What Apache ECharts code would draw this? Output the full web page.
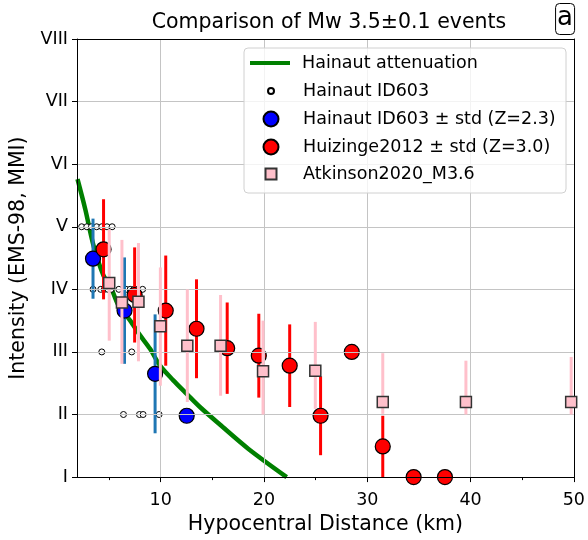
<!DOCTYPE html>
<html>
<head>
<meta charset="utf-8">
<script src="https://cdn.jsdelivr.net/npm/echarts@6/dist/echarts.min.js"></script>
<style>html,body{margin:0;padding:0;background:#fff}#chart{width:588px;height:540px}</style>
</head>
<body>
<div id="chart"></div>
<script>
var romanLabels = ['I', 'II', 'III', 'IV', 'V', 'VI', 'VII', 'VIII'];
var xTicks = [10, 20, 30, 40, 50];
var xMinorTicks = [5, 15, 25, 35, 45];

// Hainaut attenuation curve
var curveX = [1.95, 2.7, 3.5, 4.47, 5.11, 5.92, 7.05, 7.94, 8.97, 9.94, 11.2, 12.52, 13.8, 15.73, 18.5, 22.2];
var curveY = [5.76, 5.28, 4.70, 4.22, 4.06, 3.74, 3.50, 3.28, 3.05, 2.78, 2.55, 2.33, 2.12, 1.84, 1.45, 1.0];

// Hainaut ID603 single observations
var id603X = [2.35, 2.85, 3.3, 3.8, 4.3, 4.8, 5.3,
  3.45, 4.2, 4.55, 4.9, 5.2, 5.95, 6.65, 7.05, 7.4, 7.75, 8.25,
  4.3, 7.2,
  6.4, 7.95, 8.3, 9.85, 12.9];
var id603Y = [5, 5, 5, 5, 5, 5, 5,
  4, 4, 4, 4, 4, 4, 4, 4, 4, 4, 4,
  3, 3,
  2, 2, 2, 2, 2];

// Hainaut ID603 ± std
var blueX = [3.45, 6.5, 9.46, 12.52];
var blueY = [4.49, 3.66, 2.65, 1.98];
var blueStd = [0.64, 0.85, 0.95, 0];

// Huizinge2012 ± std
var redX = [4.47, 7.48, 10.49, 13.47, 16.44, 19.5, 22.49, 25.48, 28.5, 31.5, 34.49, 37.52];
var redY = [4.64, 3.91, 3.66, 3.37, 3.06, 2.94, 2.78, 1.98, 3.0, 1.49, 1.0, 1.0];
var redStd = [0.8, 0.76, 0.88, 0.79, 0.73, 0.67, 0.66, 0.63, 0, 0.49, 0, 0];

// Atkinson2020_M3.6 with lower / upper bounds
var atkX = [5.02, 6.25, 7.85, 9.97, 12.58, 15.8, 19.91, 24.97, 31.5, 39.55, 49.74];
var atkY = [4.10, 3.79, 3.80, 3.41, 3.10, 3.10, 2.69, 2.70, 2.20, 2.20, 2.20];
var atkLow = [3.18, 2.81, 2.85, 2.46, 2.2, 2.3, 2.0, 2.09, 2.01, 2.0, 2.0];
var atkHigh = [4.96, 4.79, 4.74, 4.35, 4.0, 3.91, 3.5, 3.48, 2.98, 2.86, 2.92];

var FONT = 'DejaVu Sans';

function pairs(xs, ys) {
  return xs.map(function (x, i) { return [x, ys[i]]; });
}
function stdBars(xs, ys, sd) {
  var out = [];
  xs.forEach(function (x, i) {
    if (sd[i] > 0) out.push([x, Math.max(1, ys[i] - sd[i]), ys[i] + sd[i]]);
  });
  return out;
}
function rangeBars(xs, lo, hi) {
  return xs.map(function (x, i) { return [x, lo[i], hi[i]]; });
}
function errRender(color) {
  return function (params, api) {
    var p1 = api.coord([api.value(0), api.value(1)]);
    var p2 = api.coord([api.value(0), api.value(2)]);
    return {
      type: 'line',
      shape: { x1: p1[0], y1: p1[1], x2: p2[0], y2: p2[1] },
      style: { stroke: color, lineWidth: 3 }
    };
  };
}

var dom = document.getElementById('chart');
var myChart = echarts.init(dom, null, { renderer: 'canvas' });

var names = ['Hainaut attenuation', 'Hainaut ID603', 'Hainaut ID603 \u00b1 std (Z=2.3)',
  'Huizinge2012 \u00b1 std (Z=3.0)', 'Atkinson2020_M3.6'];
var icons = ['rect', 'circle', 'circle', 'circle', 'rect'];
var rowCenters = [64, 92, 120, 148, 175];
var iconW = [40, 6, 15, 15, 11];
var iconH = [4, 6, 15, 15, 11];

var legends = names.map(function (n, i) {
  var left = 270 - iconW[i] / 2;
  return {
    data: [{ name: n, icon: icons[i] }],
    selectedMode: false,
    left: left,
    top: rowCenters[i] - 10,
    padding: 0,
    itemWidth: iconW[i],
    itemHeight: iconH[i],
    z: 20,
    textStyle: {
      fontFamily: FONT, fontSize: 17.5, color: '#000',
      padding: [0, 0, 0, 302 - (left + iconW[i] + 5)]
    }
  };
});

var option = {
  animation: false,
  title: [
    {
      text: 'Comparison of Mw 3.5\u00b10.1 events',
      left: 324, top: 7, textAlign: 'center',
      textStyle: { fontFamily: FONT, fontSize: 20.5, fontWeight: 'normal', color: '#000' }
    },
    {
      text: 'a', right: 13, top: 3,
      borderColor: '#000', borderWidth: 1, borderRadius: 4, padding: [2, 2, 4, 2],
      textStyle: { fontFamily: FONT, fontSize: 26, fontWeight: 'normal', color: '#000' }
    }
  ],
  graphic: [{
    type: 'rect', z: 10,
    shape: { x: 244, y: 48, width: 322, height: 145, r: 4 },
    style: { fill: 'rgba(255,255,255,0.8)', stroke: '#d0d0d0', lineWidth: 1 }
  }],
  legend: legends,
  grid: { left: 77, right: 12, top: 39, bottom: 62, containLabel: false },
  xAxis: [
    {
      type: 'value', min: 1.9, max: 50,
      name: 'Hypocentral Distance (km)', nameLocation: 'middle', nameGap: 31,
      nameTextStyle: { fontFamily: FONT, fontSize: 20.5, color: '#000' },
      axisLine: { show: true, onZero: false, lineStyle: { color: '#000', width: 1 } },
      axisTick: { show: true, inside: false, length: 5, customValues: xTicks, lineStyle: { color: '#000' } },
      axisLabel: { customValues: xTicks, margin: 14, fontFamily: FONT, fontSize: 17.5, color: '#000' },
      splitLine: { show: true, lineStyle: { color: '#c4c4c4', width: 1 } },
      z: 6
    },
    {
      type: 'value', min: 1.9, max: 50, position: 'bottom',
      axisLine: { show: false },
      axisTick: { show: true, length: 3, customValues: xMinorTicks, lineStyle: { color: '#000' } },
      axisLabel: { show: false },
      splitLine: { show: false }
    },
    {
      type: 'value', min: 1.9, max: 50, position: 'top',
      axisLine: { show: true, onZero: false, lineStyle: { color: '#000', width: 1 } },
      axisTick: { show: false }, axisLabel: { show: false }, splitLine: { show: false },
      z: 6
    }
  ],
  yAxis: [
    {
      type: 'value', min: 1, max: 8, interval: 1,
      name: 'Intensity (EMS-98, MMI)', nameLocation: 'middle', nameGap: 44,
      nameTextStyle: { fontFamily: FONT, fontSize: 20.5, color: '#000' },
      axisLine: { show: true, onZero: false, lineStyle: { color: '#000', width: 1 } },
      axisTick: { show: true, inside: false, length: 5, lineStyle: { color: '#000' } },
      axisLabel: {
        margin: 9, fontFamily: FONT, fontSize: 17.5, color: '#000',
        formatter: function (v) { return romanLabels[Math.round(v) - 1] || ''; }
      },
      splitLine: { show: true, lineStyle: { color: '#c4c4c4', width: 1 } },
      z: 6
    },
    {
      type: 'value', min: 1, max: 8, position: 'right',
      axisLine: { show: true, onZero: false, lineStyle: { color: '#000', width: 1 } },
      axisTick: { show: false }, axisLabel: { show: false }, splitLine: { show: false },
      z: 6
    }
  ],
  series: [
    {
      name: names[0], type: 'line', smooth: 0.3, symbol: 'none', z: 2,
      data: pairs(curveX, curveY),
      lineStyle: { color: '#008000', width: 4.5 },
      itemStyle: { color: '#008000' }
    },
    {
      name: names[1], type: 'scatter', symbol: 'circle', symbolSize: 6, z: 3,
      data: pairs(id603X, id603Y),
      itemStyle: { color: '#ffffff', borderColor: '#000', borderWidth: 1, opacity: 1 }
    },
    {
      name: 'blue-err', type: 'custom', z: 4,
      renderItem: errRender('#1f77b4'),
      data: stdBars(blueX, blueY, blueStd)
    },
    {
      name: names[2], type: 'scatter', symbol: 'circle', symbolSize: 15, z: 4,
      data: pairs(blueX, blueY),
      itemStyle: { color: '#0000ff', borderColor: '#000', borderWidth: 1.2, opacity: 1 }
    },
    {
      name: 'red-err', type: 'custom', z: 5,
      renderItem: errRender('#ff0000'),
      data: stdBars(redX, redY, redStd)
    },
    {
      name: names[3], type: 'scatter', symbol: 'circle', symbolSize: 15, z: 5,
      data: pairs(redX, redY),
      itemStyle: { color: '#ff0000', borderColor: '#000', borderWidth: 1.2, opacity: 1 }
    },
    {
      name: 'atk-err', type: 'custom', z: 6,
      renderItem: errRender('#ffc0cb'),
      data: rangeBars(atkX, atkLow, atkHigh)
    },
    {
      name: names[4], type: 'scatter', symbol: 'rect', symbolSize: 11, z: 6,
      data: pairs(atkX, atkY),
      itemStyle: { color: '#ffc0cb', borderColor: '#333', borderWidth: 1.5, opacity: 1 }
    }
  ]
};

myChart.setOption(option);
window.addEventListener('resize', myChart.resize);
</script>
</body>
</html>
